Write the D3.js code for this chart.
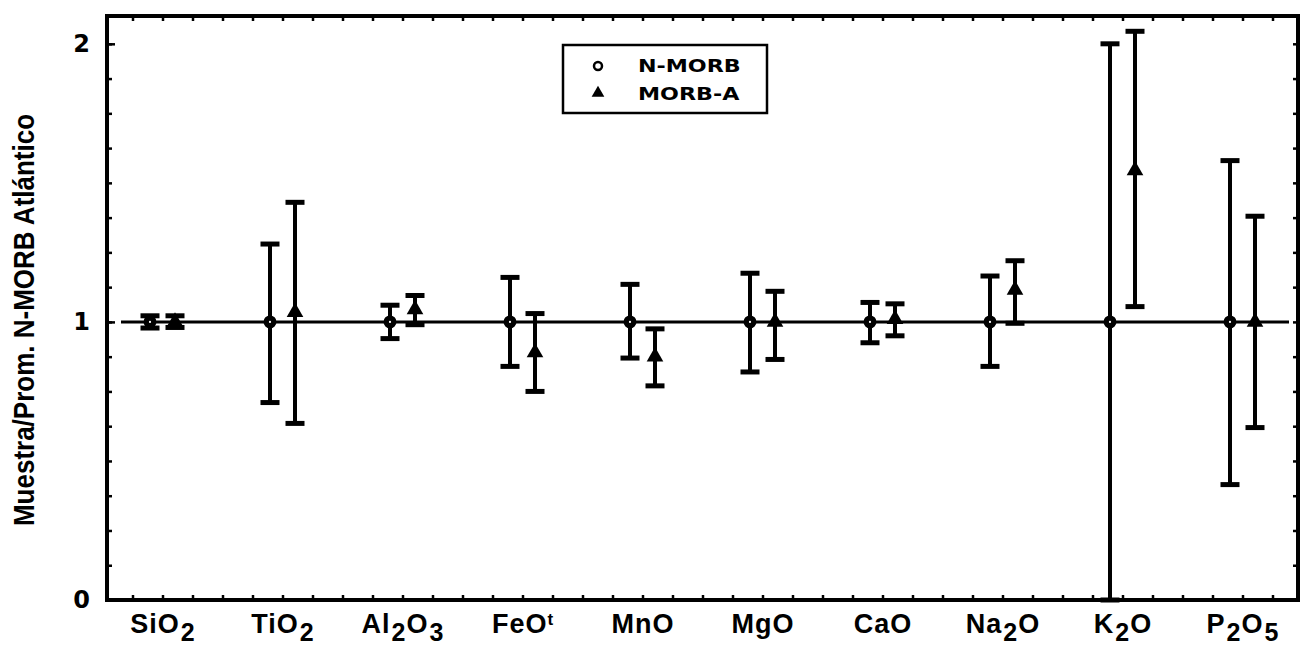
<!DOCTYPE html>
<html>
<head>
<meta charset="utf-8">
<script src="https://cdn.jsdelivr.net/npm/d3@7"></script>
<style>
  body { margin: 0; background: #fff; }
  svg { display: block; }
</style>
</head>
<body>
<svg id="chart" width="1302" height="645"></svg>
<script>
// categories, written with _ for subscript and ^ for superscript
const categories = ['SiO_2', 'TiO_2', 'Al_2O_3', 'FeO^t', 'MnO', 'MgO', 'CaO', 'Na_2O', 'K_2O', 'P_2O_5'];

// N-MORB (normalised to itself)
const nMorbMean = [1, 1, 1, 1, 1, 1, 1, 1, 1, 1];
const nMorbLow  = [0.978, 0.71, 0.94, 0.84, 0.87, 0.82, 0.925, 0.84, 0.0, 0.415];
const nMorbHigh = [1.022, 1.28, 1.06, 1.16, 1.135, 1.175, 1.07, 1.165, 2.0, 1.58];

// MORB-A
const morbAMean = [1.0, 1.035, 1.045, 0.89, 0.875, 1.0, 1.01, 1.115, 1.545, 1.0];
const morbALow  = [0.98, 0.635, 0.99, 0.75, 0.77, 0.865, 0.95, 0.995, 1.055, 0.62];
const morbAHigh = [1.022, 1.43, 1.095, 1.03, 0.975, 1.11, 1.065, 1.22, 2.045, 1.38];

const yTicks = [0, 1, 2];
const yLabel = 'Muestra/Prom. N-MORB Atlántico';
const seriesNames = ['N-MORB', 'MORB-A'];

const svg = d3.select('#chart');
const margin = { top: 16, right: 4, bottom: 45, left: 107 };
const W = +svg.attr('width'), H = +svg.attr('height');
const x0 = margin.left, x1 = W - margin.right;
const y0 = H - margin.bottom, y1 = margin.top;

const x = d3.scalePoint().domain(categories).range([x0, x1]).padding(0.4625);
const xi = d3.scaleLinear().domain([-0.4625, categories.length - 1 + 0.4625]).range([x0, x1]);
const y = d3.scaleLinear().domain([0, 2.1]).range([y0, y1]);
const off = 12.5;

// minor ticks on all four sides
const minorY = d3.range(0, 2.1, 0.125);
const minorX = d3.range(-0.25, categories.length - 0.5, 0.25);
const tickStyle = g => {
  g.select('.domain').remove();
  g.selectAll('.tick line').attr('stroke', '#000').attr('stroke-width', 2.5);
};
svg.append('g').attr('transform', `translate(${x0},0)`)
  .call(d3.axisLeft(y).tickValues(minorY).tickSizeInner(-5).tickSizeOuter(0).tickFormat(''))
  .call(tickStyle);
svg.append('g').attr('transform', `translate(${x1},0)`)
  .call(d3.axisRight(y).tickValues(minorY).tickSizeInner(-5).tickSizeOuter(0).tickFormat(''))
  .call(tickStyle);
svg.append('g').attr('transform', `translate(0,${y0})`)
  .call(d3.axisBottom(xi).tickValues(minorX).tickSizeInner(-5).tickSizeOuter(0).tickFormat(''))
  .call(tickStyle);
svg.append('g').attr('transform', `translate(0,${y1})`)
  .call(d3.axisTop(xi).tickValues(minorX).tickSizeInner(-5).tickSizeOuter(0).tickFormat(''))
  .call(tickStyle);

// major y ticks with labels
const yAxis = svg.append('g').attr('transform', `translate(${x0},0)`)
  .call(d3.axisLeft(y).tickValues(yTicks).tickSizeInner(-8).tickSizeOuter(0).tickPadding(17).tickFormat(d3.format('d')))
  .call(tickStyle);
yAxis.selectAll('.tick text')
  .attr('fill', '#000')
  .style('font-family', '"DejaVu Sans", sans-serif')
  .style('font-weight', 'bold')
  .style('font-size', '24px');

// category labels
const xAxis = svg.append('g').attr('transform', `translate(0,${y0})`)
  .call(d3.axisBottom(x).tickSize(0).tickPadding(33).tickFormat(''));
xAxis.select('.domain').remove();
xAxis.selectAll('.tick text').each(function(d) {
  const t = d3.select(this)
    .attr('dy', null)
    .attr('fill', '#000')
    .style('font-family', '"Liberation Sans", Arial, sans-serif')
    .style('font-weight', 'bold')
    .style('font-size', '27px')
    .style('letter-spacing', '1px');
  const parts = d.match(/[_^]?[^_^]+/g);
  let shift = 0;
  parts.forEach(p => {
    const kind = p[0] === '_' ? 'sub' : p[0] === '^' ? 'sup' : 'norm';
    const txt = kind === 'norm' ? p : p.slice(1, 2);
    const rest = kind === 'norm' ? '' : p.slice(2);
    const target = kind === 'sub' ? 8 : kind === 'sup' ? -8 : 0;
    t.append('tspan')
      .attr('dy', target - shift)
      .attr('dx', kind === 'sub' ? 1 : 0)
      .style('font-size', kind === 'sub' ? '25px' : kind === 'sup' ? '17px' : null)
      .text(txt);
    shift = target;
    if (rest) {
      t.append('tspan').attr('dy', -shift).text(rest);
      shift = 0;
    }
  });
});

// frame
svg.append('rect')
  .attr('x', x0).attr('y', y1)
  .attr('width', x1 - x0).attr('height', y0 - y1)
  .attr('fill', 'none').attr('stroke', '#000').attr('stroke-width', 4);

// reference line at 1
svg.append('line')
  .attr('x1', x0 + 14).attr('x2', x1 - 9)
  .attr('y1', y(1)).attr('y2', y(1))
  .attr('stroke', '#000').attr('stroke-width', 3);

// error bars + markers
const series = [
  { name: seriesNames[0], mean: nMorbMean, low: nMorbLow, high: nMorbHigh, dx: -off },
  { name: seriesNames[1], mean: morbAMean, low: morbALow, high: morbAHigh, dx: off }
];
const capW = 9.5;

series.forEach((s, si) => {
  const g = svg.append('g');
  const rows = categories.map((c, i) => ({ c, m: s.mean[i], lo: s.low[i], hi: s.high[i] }));
  const cx = d => x(d.c) + s.dx;

  g.selectAll('line.bar').data(rows).join('line')
    .attr('class', 'bar')
    .attr('x1', cx).attr('x2', cx)
    .attr('y1', d => y(d.lo)).attr('y2', d => y(d.hi))
    .attr('stroke', '#000').attr('stroke-width', 4);

  ['lo', 'hi'].forEach(k => {
    g.selectAll('line.cap-' + k).data(rows).join('line')
      .attr('class', 'cap-' + k)
      .attr('x1', d => cx(d) - capW).attr('x2', d => cx(d) + capW)
      .attr('y1', d => y(d[k])).attr('y2', d => y(d[k]))
      .attr('stroke', '#000').attr('stroke-width', 5);
  });

  if (si === 0) {
    g.selectAll('circle').data(rows).join('circle')
      .attr('cx', cx).attr('cy', d => y(d.m)).attr('r', 3.8)
      .attr('fill', '#fff').attr('stroke', '#000').attr('stroke-width', 5.4);
  } else {
    g.selectAll('path.tri').data(rows).join('path')
      .attr('class', 'tri')
      .attr('transform', d => `translate(${cx(d)},${y(d.m)})`)
      .attr('d', d3.symbol(d3.symbolTriangle, 120))
      .attr('fill', '#000');
  }
});

// legend
const lg = svg.append('g').attr('transform', 'translate(563,45)');
lg.append('rect').attr('width', 204).attr('height', 68)
  .attr('fill', '#fff').attr('stroke', '#000').attr('stroke-width', 2.5);
lg.append('circle').attr('cx', 35).attr('cy', 21).attr('r', 4)
  .attr('fill', '#fff').attr('stroke', '#000').attr('stroke-width', 2.5);
lg.append('path').attr('transform', 'translate(35,48)')
  .attr('d', d3.symbol(d3.symbolTriangle, 70)).attr('fill', '#000');
seriesNames.forEach((n, i) => {
  lg.append('text')
    .attr('transform', `translate(75,${27 + i * 28}) scale(1.2,1)`)
    .style('font-family', '"DejaVu Sans", sans-serif')
    .style('font-weight', 'bold')
    .style('font-size', '18.5px')
    .attr('fill', '#000')
    .text(n);
});

// y axis title
svg.append('text')
  .attr('transform', `translate(34,${(y0 + y1) / 2 + 12}) scale(1.1,1) rotate(-90)`)
  .attr('text-anchor', 'middle')
  .style('font-family', '"Liberation Sans", Arial, sans-serif')
  .style('font-weight', 'bold')
  .style('font-size', '26px')
  .attr('fill', '#000')
  .text(yLabel);
</script>
</body>
</html>
